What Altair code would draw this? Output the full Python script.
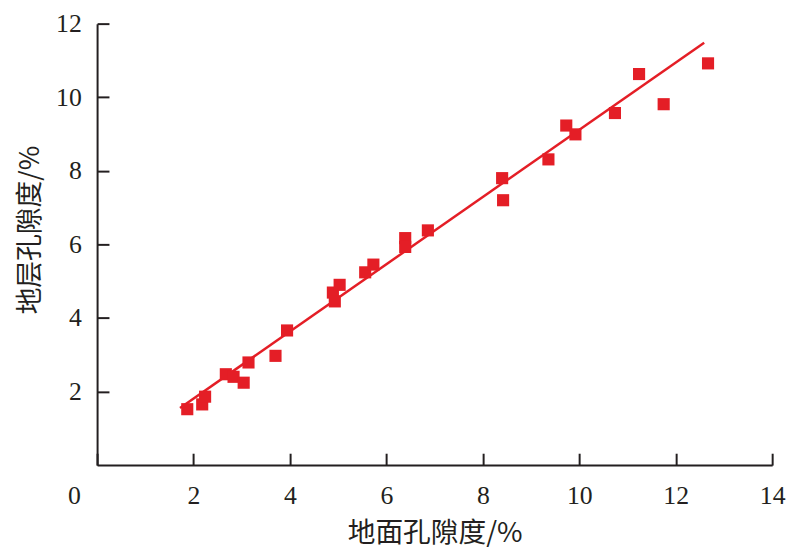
import altair as alt
import pandas as pd

# scatter points
surface_porosity = [1.87, 2.18, 2.24, 2.67, 2.83, 3.04, 3.14, 3.70, 3.94, 4.89, 4.93, 5.03, 5.56,
                    5.73, 6.39, 6.39, 6.86, 8.40, 8.42, 9.36, 9.73, 9.92, 10.74, 11.24, 11.75, 12.67]
formation_porosity = [1.52, 1.65, 1.86, 2.47, 2.40, 2.24, 2.79, 2.97, 3.66, 4.69, 4.45, 4.90, 5.24,
                      5.45, 6.17, 5.93, 6.38, 7.80, 7.20, 8.31, 9.23, 8.99, 9.57, 10.63, 9.81, 10.92]
# fitted line end points
fit_x = [1.72, 12.59]
fit_y = [1.55, 11.48]

x_ticks = [0, 2, 4, 6, 8, 10, 12, 14]
y_ticks = [2, 4, 6, 8, 10, 12]

RED = "#E41E26"
AXIS = "#231F20"

pts = pd.DataFrame({"x": surface_porosity, "y": formation_porosity})
fit = pd.DataFrame({"x": fit_x, "y": fit_y})

xscale = alt.Scale(domain=[0, 14], nice=False, zero=False)
yscale = alt.Scale(domain=[0, 12], nice=False, zero=False)

xaxis = alt.Axis(
    title="地面孔隙度/%", values=x_ticks, grid=False,
    tickSize={"expr": "-12"}, labelPadding=30,
    labelAlign=alt.condition("datum.value == 0", alt.value("right"), alt.value("center")),
    labelOffset=alt.condition("datum.value == 0", alt.value(-17), alt.value(0)),
    titlePadding=11, titleFontSize=28,
)
yaxis = alt.Axis(
    title="地层孔隙度/%", values=y_ticks, grid=False,
    tickSize={"expr": "-12"}, labelPadding=28, titlePadding=11,
    titleY=208, titleFontSize=27,
)

line = alt.Chart(fit).mark_line(color=RED, strokeWidth=2.5).encode(
    x=alt.X("x:Q", scale=xscale, axis=xaxis),
    y=alt.Y("y:Q", scale=yscale, axis=yaxis),
)
points = alt.Chart(pts).mark_square(color=RED, size=150, opacity=1).encode(
    x=alt.X("x:Q", scale=xscale),
    y=alt.Y("y:Q", scale=yscale),
)

chart = alt.layer(line, points).properties(
    width=682, height=446,
    autosize=alt.AutoSizeParams(type="none"),
    padding={"left": 90, "top": 13, "right": 16, "bottom": 86},
).configure_view(stroke=None).configure_axis(
    domainColor=AXIS, domainWidth=2, tickColor=AXIS, tickWidth=2,
    labelFont="Liberation Serif", labelFontSize=26, labelColor=AXIS,
    titleFont="Noto Sans CJK SC", titleFontWeight="normal", titleColor=AXIS,
)

chart.save("out.html", embed_options={"renderer": "svg", "actions": False})
